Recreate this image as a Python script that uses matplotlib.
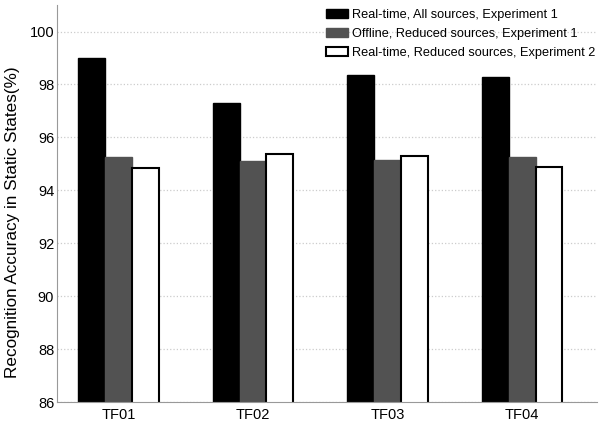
import numpy as np
import matplotlib.pyplot as plt

plt.rcParams['font.family'] = ['Liberation Sans', 'DejaVu Sans']

features = ['TF01', 'TF02', 'TF03', 'TF04']
realtime_all = [99.0, 97.3, 98.37, 98.28]
offline_reduced = [95.26, 95.1, 95.13, 95.26]
realtime_reduced = [94.85, 95.36, 95.28, 94.87]
series_names = ['Real-time, All sources, Experiment 1',
                'Offline, Reduced sources, Experiment 1',
                'Real-time, Reduced sources, Experiment 2']

fig = plt.figure(figsize=(6, 4.22), dpi=100)
ax = fig.add_axes([0.095, 0.047, 0.9, 0.941])

x = np.arange(1, len(features) + 1)
w = 0.2
ax.bar(x - w, realtime_all, w, color='black', edgecolor='black',
       linewidth=1, label=series_names[0])
ax.bar(x, offline_reduced, w, color='#525252', edgecolor='#525252',
       linewidth=1, label=series_names[1])
ax.bar(x + w, realtime_reduced, w, color='white', edgecolor='black',
       linewidth=1.5, label=series_names[2])

ax.set_ylim(86, 101)
ax.set_xlim(0.543, 4.557)
ax.set_xticks(x)
ax.set_xticklabels(features)
ax.set_yticks(np.arange(86, 101, 2))
ax.tick_params(axis='y', length=0, labelsize=10.5, pad=2)
ax.tick_params(axis='x', length=0, labelsize=10.5, pad=4)
ax.yaxis.grid(True, linestyle=':', color='#cccccc', linewidth=0.9)
ax.set_axisbelow(True)
for s in ['top', 'right']:
    ax.spines[s].set_visible(False)
for s in ['left', 'bottom']:
    ax.spines[s].set_color('#999999')
ax.set_ylabel('Recognition Accuracy in Static States(%)', fontsize=12.3)
ax.yaxis.set_label_coords(-0.068, 0.453)

ax.legend(loc='upper right', frameon=False, fontsize=9.2,
          handlelength=1.72, handletextpad=0.3,
          labelspacing=0.55, borderaxespad=0.0, bbox_to_anchor=(1.0056, 1.003))

fig.savefig('out.png', dpi=100)
